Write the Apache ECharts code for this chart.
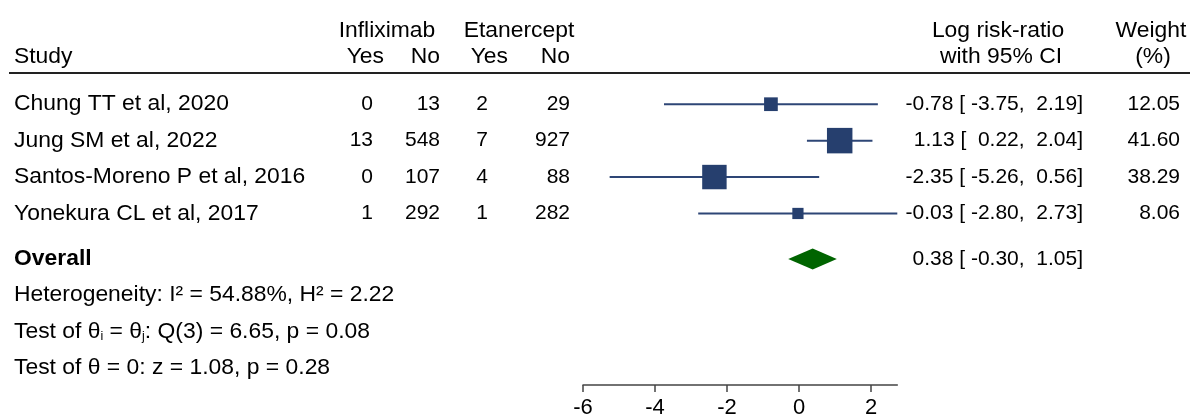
<!DOCTYPE html>
<html>
<head>
<meta charset="utf-8">
<script src="https://cdn.jsdelivr.net/npm/echarts@6/dist/echarts.min.js"></script>
<style>
html,body{margin:0;padding:0;background:#fff;}
#chart{width:1192px;height:419px;}
</style>
</head>
<body>
<div id="chart"></div>
<script>
// ---- data ----
const studies = ['Chung TT et al, 2020', 'Jung SM et al, 2022', 'Santos-Moreno P et al, 2016', 'Yonekura CL et al, 2017'];
const inflixYes = [0, 13, 0, 1];
const inflixNo = [13, 548, 107, 292];
const etanYes = [2, 7, 4, 1];
const etanNo = [29, 927, 88, 282];
const logRR = [-0.78, 1.13, -2.35, -0.03];
const ciLow = [-3.75, 0.22, -5.26, -2.80];
const ciHigh = [2.19, 2.04, 0.56, 2.73];
const weights = [12.05, 41.60, 38.29, 8.06];
const overallEst = 0.38;
const overallLow = -0.30;
const overallHigh = 1.05;
const xTicks = [-6, -4, -2, 0, 2];
const statLines = [
  'Heterogeneity: I\u00b2 = 54.88%, H\u00b2 = 2.22',
  'Test of \u03b8{sub|i} = \u03b8{sub|j}: Q(3) = 6.65, p = 0.08',
  'Test of \u03b8 = 0: z = 1.08, p = 0.28'
];

// ---- layout ----
const FONT = '"Liberation Sans", Arial, Helvetica, sans-serif';
const FS_NUM = 21;
const FS_WORD = 22;
const WORD_SCALE = 1.04;
const NAVY = '#263f6e';
const GREEN = '#006400';
const n = studies.length;
const overallRow = n + 0.25;
const statRows = statLines.map((_, i) => overallRow + 1 + i);

const chart = echarts.init(document.getElementById('chart'), null, {renderer: 'canvas'});

const ciData = studies.map((s, i) => [ciLow[i], ciHigh[i], i]);
const sqData = studies.map((s, i) => [logRR[i], i, weights[i]]);

chart.setOption({
  animation: false,
  grid: {left: 583, right: 294.7, top: 86, bottom: 32, containLabel: false},
  xAxis: {
    type: 'value', position: 'bottom', min: xTicks[0], max: Math.max(...ciHigh), interval: 2,
    axisLine: {show: true, onZero: false, lineStyle: {color: '#444', width: 1.5}},
    axisTick: {show: true, length: 7, lineStyle: {color: '#444', width: 1.5}},
    axisLabel: {fontSize: 22, color: '#000', fontFamily: FONT, margin: 12,
      showMaxLabel: false,
      formatter: v => (xTicks.indexOf(v) >= 0 ? String(v) : '')},
    splitLine: {show: false}
  },
  yAxis: {type: 'value', inverse: true, min: -0.5, max: 7.71, show: false, splitLine: {show: false}},
  series: [
    {
      type: 'custom', data: ciData, clip: false, z: 2,
      renderItem: (params, api) => {
        const a = api.coord([api.value(0), api.value(2)]);
        const b = api.coord([api.value(1), api.value(2)]);
        return {type: 'line', shape: {x1: a[0], y1: a[1], x2: b[0], y2: b[1]},
          style: {stroke: '#2e4676', lineWidth: 2}};
      }
    },
    {
      type: 'scatter', data: sqData, symbol: 'rect', z: 3,
      symbolSize: v => 3.95 * Math.sqrt(v[2]),
      itemStyle: {color: NAVY, opacity: 1}
    },
    {
      type: 'custom', data: [[overallLow, overallEst, overallHigh, overallRow]], clip: false, z: 3,
      renderItem: (params, api) => {
        const r = api.value(3);
        const l = api.coord([api.value(0), r]);
        const c = api.coord([api.value(1), r]);
        const h = api.coord([api.value(2), r]);
        const hh = 10.5;
        return {type: 'polygon', shape: {points: [[l[0], l[1]], [c[0], c[1] - hh], [h[0], h[1]], [c[0], c[1] + hh]]},
          style: {fill: GREEN}};
      }
    }
  ]
});

function rowY(r) { return chart.convertToPixel({yAxisIndex: 0}, r); }
function fmt(v, w) { let s = v.toFixed(2); while (s.length < w) s = ' ' + s; return s; }
function txt(x, y, text, align, isWord, extra) {
  return {type: 'text', x: x, y: y, silent: true,
    scaleX: isWord ? WORD_SCALE : 1,
    style: Object.assign({text: text, fontSize: isWord ? FS_WORD : FS_NUM, fontFamily: FONT, fill: '#000',
      align: align || 'left', verticalAlign: 'middle'}, extra || {})};
}

const g = [];
// header
g.push(txt(387, 31, 'Infliximab', 'center', true));
g.push(txt(519, 31, 'Etanercept', 'center', true));
g.push(txt(14, 57, 'Study', 'left', true));
g.push(txt(384, 57, 'Yes', 'right', true));
g.push(txt(440, 57, 'No', 'right', true));
g.push(txt(508, 57, 'Yes', 'right', true));
g.push(txt(570, 57, 'No', 'right', true));
g.push(txt(998, 31, 'Log risk-ratio', 'center', true));
g.push(txt(1001, 57, 'with 95% CI', 'center', true));
g.push(txt(1151, 31, 'Weight', 'center', true));
g.push(txt(1153, 57, '(%)', 'center', true));
g.push({type: 'line', silent: true, shape: {x1: 9, y1: 73, x2: 1190, y2: 73}, style: {stroke: '#222', lineWidth: 2}});

studies.forEach((s, i) => {
  const y = rowY(i);
  g.push(txt(14, y, s, 'left', true));
  g.push(txt(373, y, String(inflixYes[i]), 'right'));
  g.push(txt(440, y, String(inflixNo[i]), 'right'));
  g.push(txt(488, y, String(etanYes[i]), 'right'));
  g.push(txt(570, y, String(etanNo[i]), 'right'));
  g.push(txt(1083, y, fmt(logRR[i], 5) + ' [' + fmt(ciLow[i], 6) + ',' + fmt(ciHigh[i], 6) + ']', 'right'));
  g.push(txt(1180, y, weights[i].toFixed(2), 'right'));
});
const yo = rowY(overallRow);
g.push(txt(14, yo, 'Overall', 'left', true, {fontWeight: 'bold'}));
g.push(txt(1083, yo, fmt(overallEst, 5) + ' [' + fmt(overallLow, 6) + ',' + fmt(overallHigh, 6) + ']', 'right'));
statLines.forEach((t, i) => {
  g.push(txt(14, rowY(statRows[i]), t, 'left', true, {rich: {sub: {fontSize: 12, fontFamily: FONT, fill: '#000', verticalAlign: 'bottom', padding: [8, 0, 0, 0]}}}));
});

chart.setOption({graphic: {elements: g}});
</script>
</body>
</html>
